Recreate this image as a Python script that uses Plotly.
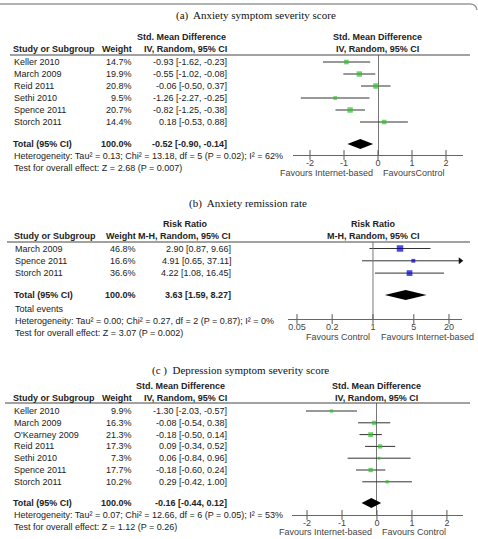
import math
import plotly.graph_objects as go

W, H = 478, 539
SANS = "Liberation Sans, Arial, sans-serif"
SERIF = "Liberation Serif, Times New Roman, serif"
TXT = "#222222"

# ---------------- data ----------------
# (a) Anxiety symptom severity score
a_studies = ["Keller 2010", "March 2009", "Reid 2011", "Sethi 2010", "Spence 2011", "Storch 2011"]
a_weights = [14.7, 19.9, 20.8, 9.5, 20.7, 14.4]
a_est = [-0.93, -0.55, -0.06, -1.26, -0.82, 0.18]
a_lo = [-1.62, -1.02, -0.50, -2.27, -1.25, -0.53]
a_hi = [-0.23, -0.08, 0.37, -0.25, -0.38, 0.88]
a_total = [-0.52, -0.90, -0.14]
a_footer = ["Heterogeneity: Tau² = 0.13; Chi² = 13.18, df = 5 (P = 0.02); I² = 62%",
            "Test for overall effect: Z = 2.68 (P = 0.007)"]
a_ticks = [-2, -1, 0, 1, 2]
a_ticktext = ["-2", "-1", "0", "1", "2"]

# (b) Anxiety remission rate
b_studies = ["March 2009", "Spence 2011", "Storch 2011"]
b_weights = [46.8, 16.6, 36.6]
b_est = [2.90, 4.91, 4.22]
b_lo = [0.87, 0.65, 1.08]
b_hi = [9.66, 37.11, 16.45]
b_total = [3.63, 1.59, 8.27]
b_footer = ["Total events",
            "Heterogeneity: Tau² = 0.00; Chi² = 0.27, df = 2 (P = 0.87); I² = 0%",
            "Test for overall effect: Z = 3.07 (P = 0.002)"]
b_ticks = [0.05, 0.2, 1, 5, 20]
b_ticktext = ["0.05", "0.2", "1", "5", "20"]

# (c) Depression symptom severity score
c_studies = ["Keller 2010", "March 2009", "O'Kearney 2009", "Reid 2011", "Sethi 2010", "Spence 2011", "Storch 2011"]
c_weights = [9.9, 16.3, 21.3, 17.3, 7.3, 17.7, 10.2]
c_est = [-1.30, -0.08, -0.18, 0.09, 0.06, -0.18, 0.29]
c_lo = [-2.03, -0.54, -0.50, -0.34, -0.84, -0.60, -0.42]
c_hi = [-0.57, 0.38, 0.14, 0.52, 0.96, 0.24, 1.00]
c_total = [-0.16, -0.44, 0.12]
c_footer = ["Heterogeneity: Tau² = 0.07; Chi² = 12.66, df = 6 (P = 0.05); I² = 53%",
            "Test for overall effect: Z = 1.12 (P = 0.26)"]
c_ticks = [-2, -1, 0, 1, 2]
c_ticktext = ["-2", "-1", "0", "1", "2"]


def X(px):
    return px / W


def Y(py):
    return 1 - py / H


fig = go.Figure()
annotations = []
shapes = []


def ann(text, x, y, xanchor="left", yref="paper", size=9, bold=False, color=TXT, family=SANS):
    annotations.append(dict(
        text=f"<b>{text}</b>" if bold else text, x=x, y=y, xref="paper", yref=yref,
        xanchor=xanchor, yanchor="middle", showarrow=False,
        font=dict(size=size, color=color, family=family), borderpad=0))


def panel(s, studies, weights, est, lo, hi, tot, footer, ticks, ticktext, g, log, color):
    sfx = "" if s == 1 else str(s)
    xa, ya = "x" + sfx, "y" + sfx
    first, pitch = g["first"], g["pitch"]
    yr = [(g["axis"] - first) / pitch, (g["line"] - first) / pitch]
    rows = list(range(len(studies)))
    tot_row = (g["total"] - first) / pitch

    # title
    ann(g["title"], X(g["title_x"]), Y(g["title_y"]), size=11, family=SERIF, color="#111")
    # header
    ann("Study or Subgroup", X(g["name_x"]), Y(g["hdr2"]), bold=True)
    ann("Weight", X(g["w_rx"]), Y(g["hdr2"]), "right", bold=True)
    ann(g["measure"], X(g["m_cx"]), Y(g["hdr1"]), "center", bold=True)
    ann(g["method"], X(g["ci_rx"]), Y(g["hdr2"]), "right", bold=True)
    fc = (g["dom"][0] + g["dom"][1]) / 2 + g["rh_shift"]
    ann(g["measure"], X(fc), Y(g["hdr1"]), "center", bold=True)
    ann(g["method"], X(fc), Y(g["hdr2"]), "center", bold=True)
    shapes.append(dict(type="line", xref="paper", yref="paper", x0=X(g["line_x0"]), x1=X(470),
                       y0=Y(g["line"]), y1=Y(g["line"]), line=dict(color="#444", width=1)))
    # rows
    for i, name in enumerate(studies):
        ann(name, X(g["name_x"] + 1), i, yref=ya)
        ann(f"{weights[i]:.1f}%", X(g["w_rx"]), i, "right", yref=ya)
        ann(f"{est[i]:.2f} [{lo[i]:.2f}, {hi[i]:.2f}]", X(g["ci_rx"]), i, "right", yref=ya)
    ann("Total (95% CI)", X(g["name_x"]), tot_row, yref=ya, bold=True)
    ann(f"{sum(weights):.1f}%", X(g["w_rx"]), tot_row, "right", yref=ya, bold=True)
    ann(f"{tot[0]:.2f} [{tot[1]:.2f}, {tot[2]:.2f}]", X(g["ci_rx"]), tot_row, "right", yref=ya, bold=True)
    for txt, fy in zip(footer, g["foot"]):
        ann(txt, X(g["name_x"] + 1), Y(fy))
    # favours labels
    ann(g["favL"], X(g["favL_rx"]), Y(g["fav_y"]), "right", color="#444")
    ann(g["favR"], X(g["favR_lx"]), Y(g["fav_y"]), "left", color="#444")

    # CI lines
    xs, ys = [], []
    for i in rows:
        xs += [lo[i], hi[i], None]
        ys += [i, i, None]
    fig.add_trace(go.Scatter(x=xs, y=ys, mode="lines", line=dict(color="#333", width=1),
                             xaxis=xa, yaxis=ya, hoverinfo="skip", showlegend=False))
    # arrows for CIs beyond axis
    if log:
        xmax = 10 ** g["range"][1]
    else:
        xmax = g["range"][1]
    ax_x, ax_y = [], []
    for i in rows:
        if hi[i] > xmax:
            ax_x.append(10 ** (g["range"][1] - 0.03) if log else xmax - 0.05)
            ax_y.append(i)
    if ax_x:
        fig.add_trace(go.Scatter(x=ax_x, y=ax_y, mode="markers",
                                 marker=dict(symbol="triangle-right", size=6, color="#111"),
                                 xaxis=xa, yaxis=ya, hoverinfo="skip", showlegend=False, cliponaxis=False))
    # squares
    wmax = max(weights)
    sizes = [g["smax"] * math.sqrt(w / wmax) for w in weights]
    fig.add_trace(go.Scatter(x=est, y=rows, mode="markers",
                             marker=dict(symbol="square", size=sizes, color=color, line=dict(width=0)),
                             xaxis=xa, yaxis=ya, hoverinfo="skip", showlegend=False))
    # diamond
    hh = 5 / pitch
    fig.add_trace(go.Scatter(x=[tot[1], tot[0], tot[2], tot[0], tot[1]],
                             y=[tot_row, tot_row - hh, tot_row, tot_row + hh, tot_row],
                             mode="lines", fill="toself", fillcolor="#000", line=dict(width=0, color="#000"),
                             xaxis=xa, yaxis=ya, hoverinfo="skip", showlegend=False))
    # reference line for log axis
    if log:
        fig.add_trace(go.Scatter(x=[1, 1], y=yr, mode="lines", line=dict(color="#777", width=1),
                                 xaxis=xa, yaxis=ya, hoverinfo="skip", showlegend=False))
    # tick marks crossing the axis line
    fig.add_trace(go.Scatter(x=ticks, y=[yr[0]] * len(ticks), mode="markers",
                             marker=dict(symbol="line-ns-open", size=7, color="#555",
                                         line=dict(color="#555", width=1)),
                             xaxis=xa, yaxis=ya, hoverinfo="skip", showlegend=False, cliponaxis=False))

    fig.update_layout(**{
        "xaxis" + sfx: dict(domain=[X(g["dom"][0]), X(g["dom"][1])], range=g["range"],
                            type="log" if log else "linear", anchor=ya,
                            showline=True, linecolor="#666", linewidth=1,
                            ticks="", tickvals=ticks, ticktext=ticktext, ticklabelstandoff=-1,
                            tickfont=dict(size=9, color="#444", family=SANS),
                            showgrid=False, zeroline=not log, zerolinecolor="#777", zerolinewidth=1,
                            fixedrange=True),
        "yaxis" + sfx: dict(domain=[Y(g["axis"]), Y(g["line"])], range=yr, visible=False,
                            anchor=xa, fixedrange=True),
    })


ga = dict(title="(a)  Anxiety symptom severity score", title_x=175, title_y=16,
          hdr1=37, hdr2=49, line=55, line_x0=10, name_x=12, w_rx=133, ci_rx=228, m_cx=181,
          measure="Std. Mean Difference", method="IV, Random, 95% CI",
          first=62, pitch=12, total=144, foot=[155.5, 167.5], axis=155,
          dom=[293, 463], range=[-2.5, 2.5], rh_shift=-1, smax=5.5,
          favL="Favours Internet-based", favR="FavoursControl", favL_rx=374, favR_lx=382, fav_y=173)
gb = dict(title="(b)  Anxiety remission rate", title_x=188, title_y=204,
          hdr1=224, hdr2=236, line=242, line_x0=7, name_x=13, w_rx=137, ci_rx=232, m_cx=185,
          measure="Risk Ratio", method="M-H, Random, 95% CI",
          first=248.5, pitch=12.3, total=295, foot=[309, 321, 332.5], axis=319,
          dom=[288, 462], range=[-1.455, 1.524], rh_shift=-1.5, smax=6.5,
          favL="Favours Control", favR="Favours Internet-based", favL_rx=371, favR_lx=380, fav_y=337)
gc = dict(title="(c )  Depression symptom severity score", title_x=151, title_y=370,
          hdr1=386, hdr2=398, line=403, line_x0=5, name_x=12, w_rx=133, ci_rx=228, m_cx=180,
          measure="Std. Mean Difference", method="IV, Random, 95% CI",
          first=411, pitch=11.8, total=503, foot=[515, 527], axis=515,
          dom=[292, 463], range=[-2.43, 2.46], rh_shift=-1.5, smax=4.8,
          favL="Favours Internet-based", favR="Favours Control", favL_rx=373, favR_lx=381, fav_y=532)

GREEN = "#2fbf2f"
BLUE = "#0000c8"
panel(1, a_studies, a_weights, a_est, a_lo, a_hi, a_total, a_footer, a_ticks, a_ticktext, ga, False, GREEN)
panel(2, b_studies, b_weights, b_est, b_lo, b_hi, b_total, b_footer, b_ticks, b_ticktext, gb, True, BLUE)
panel(3, c_studies, c_weights, c_est, c_lo, c_hi, c_total, c_footer, c_ticks, c_ticktext, gc, False, GREEN)

# frame line at top (rounded corner)
shapes.append(dict(type="path", xref="paper", yref="paper",
                   path=f"M 0,{Y(4)} L {X(470)},{Y(4)} Q {X(476)},{Y(4)} {X(477)},{Y(10)}",
                   line=dict(color="#999", width=1.5)))

fig.update_layout(width=W, height=H, margin=dict(l=0, r=0, t=0, b=0),
                  paper_bgcolor="white", plot_bgcolor="rgba(0,0,0,0)",
                  annotations=annotations, shapes=shapes, showlegend=False)
fig.write_html("out.html")
